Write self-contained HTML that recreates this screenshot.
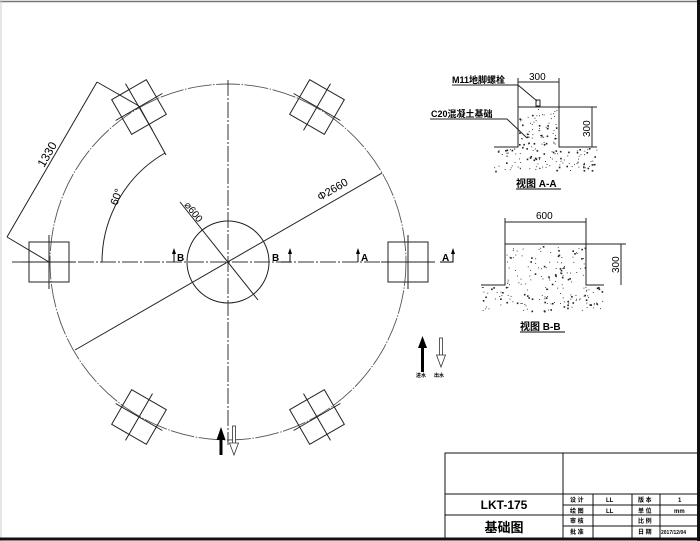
<!DOCTYPE html>
<html><head><meta charset="utf-8"><style>
html,body{margin:0;padding:0;background:#fff;}
svg{display:block;}
text{font-family:"Liberation Sans","Noto Sans CJK SC",sans-serif;fill:#000;}
.b{font-weight:bold;}
</style></head><body>
<svg id="s" width="700" height="541" viewBox="0 0 700 541" xmlns="http://www.w3.org/2000/svg">
<rect x="0" y="0" width="700" height="541" fill="#fff"/>
<line x1="0" y1="1.5" x2="700" y2="1.5" stroke="#777" stroke-width="1.5"/>
<line x1="1" y1="0" x2="1" y2="541" stroke="#ccc" stroke-width="1"/>
<line x1="698.5" y1="0" x2="698.5" y2="541" stroke="#111" stroke-width="3"/>
<line x1="0" y1="539" x2="700" y2="539" stroke="#111" stroke-width="3"/>
<g fill="none" stroke="#222" stroke-width="1">
<circle cx="228" cy="262" r="178" stroke-dasharray="24 1.5 1.5 1.5" stroke="#555" stroke-width="0.9"/>
<circle cx="228" cy="262" r="41"/>
<line x1="12" y1="262" x2="433" y2="262" stroke-dasharray="16 2 2 2" stroke="#333"/>
<line x1="228" y1="80" x2="228" y2="445" stroke-dasharray="16 2 2 2" stroke="#333"/>
<line x1="75" y1="350" x2="382" y2="173"/>
<line x1="180" y1="202" x2="258" y2="300"/>
<line x1="7" y1="237" x2="97" y2="82"/>
<line x1="7" y1="237" x2="49" y2="262"/>
<line x1="97" y1="82" x2="139" y2="106"/>
<line x1="139" y1="106" x2="166" y2="155"/>
<path d="M102 262 A126 126 0 0 1 165 153"/>
</g>
<g fill="none" stroke="#222" stroke-width="1">
<g transform="translate(49,262)"><rect x="-20" y="-20" width="40" height="40"/><line x1="-27" y1="0" x2="27" y2="0"/><line x1="0" y1="-27" x2="0" y2="27"/></g>
<g transform="translate(408,262)"><rect x="-20" y="-20" width="40" height="40"/><line x1="-27" y1="0" x2="27" y2="0"/><line x1="0" y1="-27" x2="0" y2="27"/></g>
<g transform="translate(139,107) rotate(-30)"><rect x="-20" y="-20" width="40" height="40"/><line x1="-27" y1="0" x2="27" y2="0"/><line x1="0" y1="-27" x2="0" y2="27"/></g>
<g transform="translate(317,417) rotate(-30)"><rect x="-20" y="-20" width="40" height="40"/><line x1="-27" y1="0" x2="27" y2="0"/><line x1="0" y1="-27" x2="0" y2="27"/></g>
<g transform="translate(317,107) rotate(30)"><rect x="-20" y="-20" width="40" height="40"/><line x1="-27" y1="0" x2="27" y2="0"/><line x1="0" y1="-27" x2="0" y2="27"/></g>
<g transform="translate(139,417) rotate(30)"><rect x="-20" y="-20" width="40" height="40"/><line x1="-27" y1="0" x2="27" y2="0"/><line x1="0" y1="-27" x2="0" y2="27"/></g>
</g>
<text x="0" y="0" font-size="12" transform="translate(44,168) rotate(-60)">1330</text>
<text x="0" y="0" font-size="11" transform="translate(117,206) rotate(-70)">60°</text>
<text x="0" y="0" font-size="10" transform="translate(184,205) rotate(-128) scale(-1,-1)">⌀600</text>
<text x="0" y="0" font-size="11" transform="translate(320,201) rotate(-30)">Φ2660</text>
<g stroke="#000" stroke-width="1" fill="none">
<path d="M174 262 V252"/><path d="M281 262 H290 V252"/><path d="M358 262 V252"/><path d="M440 262 H453 V252"/>
</g>
<g fill="#000"><path d="M172 254 L174 248 L176 254Z"/><path d="M288 254 L290 248 L292 254Z"/><path d="M356 254 L358 248 L360 254Z"/><path d="M451 254 L453 248 L455 254Z"/></g>
<text x="177" y="261" font-size="10" class="b">B</text>
<text x="272" y="261" font-size="10" class="b">B</text>
<text x="361" y="261" font-size="10" class="b">A</text>
<text x="442" y="261" font-size="10" class="b">A</text>
<g>
<rect x="421" y="346" width="3" height="26" fill="#000"/><path d="M418 348 L422.5 336 L427 348Z" fill="#000"/>
<rect x="439.5" y="338" width="3" height="18" fill="#fff" stroke="#333" stroke-width="0.8"/><path d="M436.5 355 L441 367 L445.5 355Z" fill="#fff" stroke="#333" stroke-width="0.8"/>
<rect x="219.5" y="438" width="3" height="17" fill="#000"/><path d="M216.5 440 L221 427 L225.5 440Z" fill="#000"/>
<rect x="232.5" y="426" width="3" height="18" fill="#fff" stroke="#333" stroke-width="0.8"/><path d="M229.5 443 L234 455 L238.5 443Z" fill="#fff" stroke="#333" stroke-width="0.8"/>
</g>
<text x="416" y="377" font-size="5" class="b">进水</text>
<text x="434" y="377" font-size="5" class="b">出水</text>
<g fill="none" stroke="#222" stroke-width="1">
<path d="M494 147 H518 V107 H559 V147 H597"/>
<line x1="518" y1="82" x2="559" y2="82"/><line x1="518" y1="78" x2="518" y2="107"/><line x1="559" y1="78" x2="559" y2="107"/>
<line x1="559" y1="107" x2="597" y2="107"/><line x1="592" y1="107" x2="592" y2="147"/>
<rect x="536" y="100" width="4" height="6"/>
<line x1="452" y1="85" x2="518" y2="85"/><line x1="518" y1="85" x2="537" y2="101"/>
<line x1="430" y1="119" x2="507" y2="119"/><line x1="507" y1="119" x2="527" y2="138"/>
</g>
<text x="529" y="80" font-size="10">300</text>
<text x="0" y="0" font-size="10" transform="translate(590,137) rotate(-90)">300</text>
<text x="452" y="83" font-size="9" class="b">M11地脚螺栓</text>
<text x="431" y="117" font-size="9" class="b">C20混凝土基础</text>
<text x="516" y="187" font-size="10" class="b">视图 A-A</text>
<line x1="516" y1="189" x2="561" y2="189" stroke="#000"/>
<g fill="none" stroke="#222" stroke-width="1">
<path d="M481 285 H505 V244 H586 V285 H604"/>
<line x1="505" y1="222" x2="586" y2="222"/><line x1="505" y1="218" x2="505" y2="244"/><line x1="586" y1="218" x2="586" y2="244"/>
<line x1="586" y1="244" x2="626" y2="244"/><line x1="621" y1="244" x2="621" y2="285"/>
</g>
<text x="536" y="219" font-size="10">600</text>
<text x="0" y="0" font-size="10" transform="translate(619,273) rotate(-90)">300</text>
<text x="520" y="330" font-size="10" class="b">视图 B-B</text>
<line x1="520" y1="332" x2="565" y2="332" stroke="#000"/>
<g id="dots" fill="#222"></g>
<g fill="none" stroke="#111" stroke-width="1">
<rect x="445" y="453" width="253" height="85"/>
<line x1="563" y1="453" x2="563" y2="538"/>
<line x1="445" y1="494" x2="698" y2="494"/>
<line x1="445" y1="515" x2="563" y2="515"/>
<line x1="563" y1="505" x2="698" y2="505"/>
<line x1="563" y1="515" x2="698" y2="515"/>
<line x1="563" y1="526" x2="698" y2="526"/>
<line x1="593" y1="494" x2="593" y2="538"/>
<line x1="632" y1="494" x2="632" y2="538"/>
<line x1="660" y1="494" x2="660" y2="538"/>
</g>
<text x="504" y="509" font-size="12" class="b" text-anchor="middle">LKT-175</text>
<text x="504" y="532" font-size="13" class="b" text-anchor="middle">基础图</text>
<g font-size="6" class="b">
<text x="570" y="502">设 计</text><text x="570" y="513">绘 图</text><text x="570" y="523">审 核</text><text x="570" y="534">批 准</text>
<text x="606" y="502">LL</text><text x="606" y="513">LL</text>
<text x="638" y="502">版 本</text><text x="638" y="513">单 位</text><text x="638" y="523">比 例</text><text x="638" y="534">日 期</text>
<text x="678" y="502">1</text><text x="674" y="513">mm</text><text x="661" y="534" font-size="5">2017/12/04</text>
</g>
</svg>
<script>
(function(){
var g=document.getElementById('dots'),ns='http://www.w3.org/2000/svg',seed=7;
function r(){seed=(seed*16807)%2147483647;return seed/2147483647;}
function add(x0,y0,w,h,n){for(var i=0;i<n;i++){var x=x0+r()*w,y=y0+r()*h;var c=document.createElementNS(ns,'rect');var s=r()<0.3?1.6:0.9;c.setAttribute('x',x.toFixed(1));c.setAttribute('y',y.toFixed(1));c.setAttribute('width',s);c.setAttribute('height',s);g.appendChild(c);}}
add(519,109,39,38,70);add(494,148,103,23,110);
add(506,246,79,39,90);add(481,286,123,25,110);
})();
</script>
</body></html>
